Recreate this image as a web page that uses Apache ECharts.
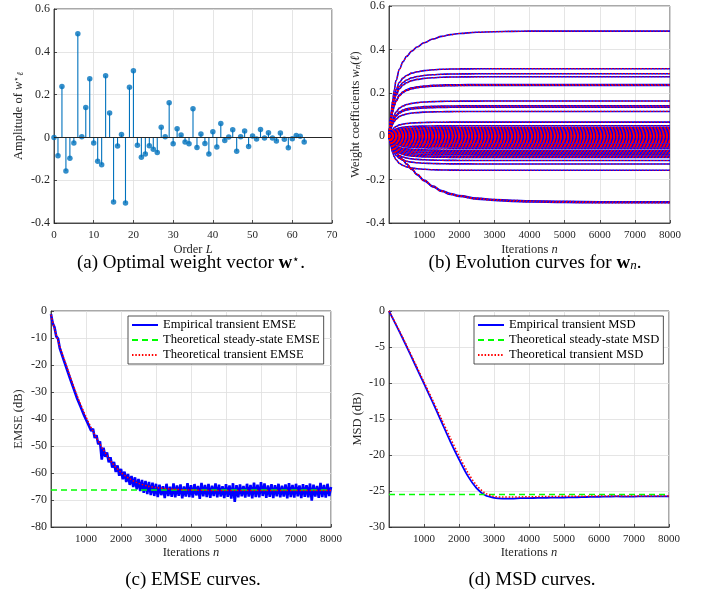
<!DOCTYPE html>
<html><head><meta charset="utf-8">
<script src="https://cdn.jsdelivr.net/npm/echarts@6/dist/echarts.min.js"></script>
<style>html,body{margin:0;padding:0;background:#fff}#c{width:709px;height:599px}</style>
</head><body><div id="c"></div><script>
// ---------- data ----------
const orderL = [0,1,2,3,4,5,6,7,8,9,10,11,12,13,14,15,16,17,18,19,20,21,22,23,24,25,26,27,28,29,30,31,32,33,34,35,36,37,38,39,40,41,42,43,44,45,46,47,48,49,50,51,52,53,54,55,56,57,58,59,60,61,62,63];
const wStar = [0,-0.086,0.238,-0.157,-0.098,-0.026,0.484,0.003,0.140,0.274,
  -0.026,-0.112,-0.128,0.288,0.114,-0.302,-0.040,0.014,-0.307,0.234,
  0.311,-0.037,-0.093,-0.078,-0.039,-0.055,-0.070,0.048,0.003,0.162,
  -0.030,0.040,0.011,-0.022,-0.030,0.134,-0.047,0.016,-0.028,-0.078,
  0.026,-0.045,0.065,-0.014,0.002,0.036,-0.065,0.003,0.030,-0.042,
  0.006,-0.008,0.037,-0.003,0.022,-0.003,-0.017,0.020,-0.009,-0.048,
  -0.006,0.009,0.005,-0.022];

// convergence profiles (fraction of final weight)
const profileN    = [0,25,50,100,150,200,300,400,500,650,800,1000,1250,1500,1750,2000,2500,3000,3500,4000,5000,6000,7000,8000];
const profileFast = [0,0.15,0.28,0.47,0.60,0.69,0.80,0.86,0.90,0.935,0.955,0.972,0.984,0.991,0.995,0.997,0.999,1,1,1,1,1,1,1];
const profileTop  = [0,0.10,0.19,0.33,0.44,0.53,0.64,0.71,0.76,0.81,0.85,0.89,0.925,0.95,0.967,0.978,0.99,0.995,0.998,1,1,1,1,1];
const profileSlow = [0,0.04,0.07,0.13,0.19,0.24,0.31,0.36,0.42,0.50,0.58,0.67,0.76,0.83,0.875,0.905,0.945,0.965,0.978,0.987,0.995,1,1,1];
const curveKind = {6:'top', 15:'slow', 18:'slow'};

// EMSE (panel c), empirical sampled every 50 iterations
const empStep = 50;
const empEMSE = [-1.2,-4.6,-6.0,-9.4,-10.2,-13.7,-14.3,-17.6,-18.0,-21.4,
  -21.8,-25.2,-25.4,-28.8,-28.9,-32.5,-32.2,-35.6,-35.2,-38.8,
  -38.3,-41.6,-40.9,-44.4,-43.6,-47.0,-46.0,-49.4,-48.3,-55.0,
  -50.6,-54.0,-52.4,-56.0,-54.2,-58.0,-55.9,-59.6,-57.2,-61.0,
  -58.5,-62.3,-59.5,-63.3,-60.4,-64.4,-61.1,-65.2,-61.6,-66.0,
  -62.2,-66.7,-62.6,-67.3,-62.9,-67.8,-63.3,-68.2,-63.6,-68.5,
  -64.0,
  -68.9,-64.3,-68.2,-64.9,-69.3,-64.0,-68.5,-65.1,-68.8,-63.9,
  -69.0,-64.6,-68.4,-64.2,-69.4,-65.0,-68.7,-63.8,-68.9,-64.5,
  -69.1,-64.1,-68.3,-64.8,-69.6,-63.7,-68.6,-64.4,-68.9,-64.0,
  -69.2,-64.7,-68.5,-63.9,-69.0,-64.3,-68.7,-64.9,-69.3,-64.1,
  -68.8,-64.6,-69.5,-63.8,-70.7,-64.5,-69.0,-64.2,-68.6,-64.8,
  -69.1,-64.0,-68.7,-64.4,-69.4,-63.6,-68.9,-64.3,-69.0,-63.4,
  -68.5,-63.9,-69.2,-64.6,-68.8,-64.1,-69.3,-64.5,-68.6,-64.0,
  -69.0,-64.7,-68.7,-64.2,-69.4,-63.8,-68.9,-64.4,-69.1,-64.0,
  -68.6,-64.6,-69.3,-64.1,-68.8,-64.5,-69.0,-63.9,-70.2,-64.3,
  -68.7,-64.8,-69.2,-63.7,-68.9,-64.4,-69.1,-64.0,-68.5,-65.2];
const thN    = [0,100,250,500,750,1000,1250,1500,1750,2000,2250,2500,2750,3000,3500,4000,5000,6000,7000,8000];
const thEMSE = [-1.5,-6.5,-13,-22.5,-31.5,-39.2,-45.8,-51.5,-56.3,-59.8,-62.2,-63.8,-64.8,-65.4,-66.0,-66.3,-66.5,-66.5,-66.5,-66.5];
const ssEMSE = -66.3;

// MSD (panel d), sampled every 250 iterations
const msdStep = 250;
const empMSD = [0,-2.4,-4.9,-7.5,-10.1,-12.7,-15.4,-18.1,-20.6,-22.9,-24.6,-25.6,-25.95,-26.05,-26.05,-26.0,-25.98,-25.96,-25.94,-25.92,-25.9,-25.88,-25.85,-25.82,-25.8,-25.78,-25.75,-25.77,-25.78,-25.74,-25.75,-25.76,-25.75];
const thMSD  = [0,-2.3,-4.75,-7.3,-9.85,-12.4,-15.0,-17.6,-20.1,-22.4,-24.2,-25.3,-25.75,-25.85,-25.85,-25.82,-25.8,-25.78,-25.76,-25.75,-25.74,-25.73,-25.72,-25.71,-25.7,-25.7,-25.7,-25.7,-25.7,-25.7,-25.7,-25.7,-25.7];
const ssMSD = -25.5;

const namesEMSE = ['Empirical transient EMSE','Theoretical steady-state EMSE','Theoretical transient EMSE'];
const namesMSD  = ['Empirical transient MSD','Theoretical steady-state MSD','Theoretical transient MSD'];

// ---------- styling ----------
const FONT = "'Liberation Serif','Times New Roman',serif";
const AX = '#262626';
const GRIDC = '#dedede';
const BLUE = '#0000ff', RED = '#ff0000', GREEN = '#00ff00', STEM = '#0072BD';

function rich(size){
  return {
    n:{fontFamily:FONT,fontSize:size,color:AX},
    i:{fontFamily:FONT,fontSize:size,fontStyle:'italic',color:AX},
    b:{fontFamily:FONT,fontSize:size,fontWeight:'bold',color:'#000'},
    sub:{fontFamily:FONT,fontSize:Math.round(size*0.68),fontStyle:'italic',color:AX,verticalAlign:'bottom'},
    sup:{fontFamily:FONT,fontSize:Math.round(size*0.68),color:AX,verticalAlign:'top'}
  };
}
const plain = v => String(v);
function xAx(gi,min,max,interval,showMin,name,gap){
  return {gridIndex:gi,type:'value',min,max,interval,name,nameLocation:'middle',nameGap:gap,
    nameTextStyle:{rich:rich(12.5)},
    axisLine:{show:true,onZero:false,lineStyle:{color:AX,width:0.8}},
    axisTick:{show:true,inside:true,length:3,lineStyle:{color:AX,width:0.8}},
    axisLabel:{color:AX,fontFamily:FONT,fontSize:11,margin:7,showMinLabel:showMin,showMaxLabel:true,formatter:plain},
    splitLine:{show:true,lineStyle:{color:GRIDC,width:0.8}}};
}
function yAx(gi,min,max,interval,name,gap){
  return {gridIndex:gi,type:'value',min,max,interval,name,nameLocation:'middle',nameGap:gap,
    nameTextStyle:{rich:rich(12.5)},
    axisLine:{show:true,onZero:false,lineStyle:{color:AX,width:0.8}},
    axisTick:{show:true,inside:true,length:3,lineStyle:{color:AX,width:0.8}},
    axisLabel:{color:AX,fontFamily:FONT,fontSize:12,margin:4,formatter:plain},
    splitLine:{show:true,lineStyle:{color:GRIDC,width:0.8}}};
}
const gridBase = {show:true,borderColor:AX,borderWidth:0.8,backgroundColor:'#fff',containLabel:false};

// ---------- series ----------
const series = [];
const stemData = orderL.map((k,i)=>[k,wStar[i]]);
series.push({type:'bar',xAxisIndex:0,yAxisIndex:0,data:stemData,barWidth:1.1,itemStyle:{color:STEM},silent:true});
series.push({type:'scatter',xAxisIndex:0,yAxisIndex:0,data:stemData,symbolSize:5.5,itemStyle:{color:STEM},silent:true,z:3,
  markLine:{silent:true,symbol:'none',label:{show:false},lineStyle:{color:AX,width:1,type:'solid'},data:[{yAxis:0}]}});

const profs = {fast:profileFast, top:profileTop, slow:profileSlow};
const curves = wStar.map((w,i)=>{
  const p = profs[curveKind[i]||'fast'];
  return profileN.map((n,k)=>[n, w*p[k]]);
});
curves.forEach(d=>series.push({type:'line',xAxisIndex:1,yAxisIndex:1,data:d,symbol:'none',smooth:0.4,smoothMonotone:'x',
  lineStyle:{color:BLUE,width:1.6},silent:true,z:2}));
curves.forEach(d=>series.push({type:'line',xAxisIndex:1,yAxisIndex:1,data:d,symbol:'none',smooth:0.4,smoothMonotone:'x',
  lineStyle:{color:RED,width:1.2,type:[1.5,1.8]},silent:true,z:3}));

// panel c
series.push({name:namesEMSE[0],type:'line',xAxisIndex:2,yAxisIndex:2,data:empEMSE.map((v,i)=>[i*empStep,v]),symbol:'none',
  lineStyle:{color:BLUE,width:2.6},itemStyle:{color:BLUE},silent:true,z:2});
series.push({name:namesEMSE[1],type:'line',xAxisIndex:2,yAxisIndex:2,data:[[0,ssEMSE],[8000,ssEMSE]],symbol:'none',
  lineStyle:{color:GREEN,width:1.5,type:[6,4]},itemStyle:{color:GREEN},silent:true,z:3});
series.push({name:namesEMSE[2],type:'line',xAxisIndex:2,yAxisIndex:2,data:thN.map((n,i)=>[n,thEMSE[i]]),symbol:'none',smooth:0.3,
  lineStyle:{color:RED,width:1.5,type:[1.5,1.8]},itemStyle:{color:RED},silent:true,z:4});
// panel d
series.push({name:namesMSD[0],type:'line',xAxisIndex:3,yAxisIndex:3,data:empMSD.map((v,i)=>[i*msdStep,v]),symbol:'none',smooth:0.3,
  lineStyle:{color:BLUE,width:1.8},itemStyle:{color:BLUE},silent:true,z:2});
series.push({name:namesMSD[1],type:'line',xAxisIndex:3,yAxisIndex:3,data:[[0,ssMSD],[8000,ssMSD]],symbol:'none',
  lineStyle:{color:GREEN,width:1.5,type:[6,4]},itemStyle:{color:GREEN},silent:true,z:3});
series.push({name:namesMSD[2],type:'line',xAxisIndex:3,yAxisIndex:3,data:empMSD.map((v,i)=>[i*msdStep,thMSD[i]]),symbol:'none',smooth:0.3,
  lineStyle:{color:RED,width:1.5,type:[1.5,1.8]},itemStyle:{color:RED},silent:true,z:4});

function legendCfg(names,left){
  return {data:names,left,top:316,orient:'vertical',itemWidth:26,itemHeight:10,itemGap:1,padding:[2,4,2,3],
    borderColor:AX,borderWidth:0.8,backgroundColor:'#fff',selectedMode:false,
    itemStyle:{opacity:0},
    textStyle:{fontFamily:FONT,fontSize:12.6,color:'#000',lineHeight:14}};
}
const capRich = {n:{fontFamily:FONT,fontSize:19,color:'#000'},
  b:{fontFamily:FONT,fontSize:19,fontWeight:'bold',color:'#000'},
  sup:{fontFamily:FONT,fontSize:12,color:'#000',verticalAlign:'top'},
  sub:{fontFamily:FONT,fontSize:13,fontStyle:'italic',color:'#000',verticalAlign:'bottom'}};
function cap(text,x,y){return {type:'text',x,y,style:{text,rich:capRich,align:'center',verticalAlign:'middle'}};}

const option = {
  animation:false,
  backgroundColor:'#fff',
  grid:[
    Object.assign({left:54,top:9,width:278,height:214},gridBase),
    Object.assign({left:389,top:6,width:281,height:217},gridBase),
    Object.assign({left:51,top:311,width:280,height:216},gridBase),
    Object.assign({left:389,top:311,width:280,height:216},gridBase)
  ],
  xAxis:[
    xAx(0,0,70,10,true,'{n|Order }{i|L}',20),
    xAx(1,0,8000,1000,false,'{n|Iterations }{i|n}',20),
    xAx(2,0,8000,1000,false,'{n|Iterations }{i|n}',18),
    xAx(3,0,8000,1000,false,'{n|Iterations }{i|n}',18)
  ],
  yAxis:[
    yAx(0,-0.4,0.6,0.2,'{n|Amplitude of }{i|w}{sup|⋆}{sub|ℓ}',29),
    yAx(1,-0.4,0.6,0.2,'{n|Weight coefficients }{i|w}{sub|n}{n|(}{i|ℓ}{n|)}',27),
    yAx(2,-80,0,10,'{n|EMSE (dB)}',26),
    yAx(3,-30,0,5,'{n|MSD (dB)}',25)
  ],
  legend:[legendCfg(namesEMSE,128),legendCfg(namesMSD,474)],
  graphic:[
    cap('{n|(a) Optimal weight vector }{b|w}{sup|⋆}{n|.}',191,263),
    cap('{n|(b) Evolution curves for }{b|w}{sub|n}{n|.}',535,263),
    cap('{n|(c) EMSE curves.}',193,580),
    cap('{n|(d) MSD curves.}',532,580)
  ],
  series
};
const chart = echarts.init(document.getElementById('c'),null,{renderer:'canvas'});
chart.setOption(option);
</script></body></html>
